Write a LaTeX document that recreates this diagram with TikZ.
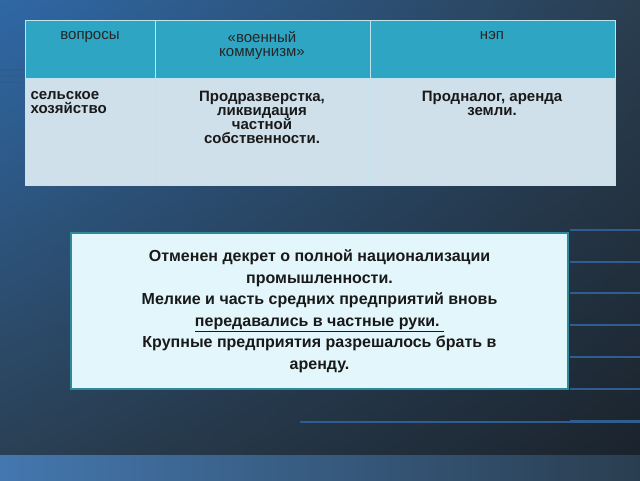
\documentclass[tikz,border=0pt]{standalone}
\usepackage{fontspec}
\setmainfont{Liberation Sans}
\usetikzlibrary{shadings}
\newcommand{\myul}[1]{\underline{#1}}
\definecolor{hdr}{HTML}{2DA5C3}
\definecolor{bod}{HTML}{CFE0EA}
\definecolor{boxf}{HTML}{E2F6FB}
\definecolor{boxb}{HTML}{2E8A9A}
\definecolor{bgA}{HTML}{2F68A6}
\definecolor{bgB}{HTML}{2A3E50}
\definecolor{bgC}{HTML}{1A222B}
\definecolor{ln}{HTML}{2F5E8E}
\begin{document}
\begin{tikzpicture}[x=1pt,y=-1pt,
  hd/.style={anchor=north,align=center,font=\fontsize{15}{15}\selectfont,text=black!85},
  bd/.style={anchor=north,align=center,font=\bfseries\fontsize{15}{15}\selectfont,text=black!90},
  bgline/.style={ln,line width=2.5pt}]
\useasboundingbox (0,0) rectangle (640,480);
\shade[upper left=bgA,upper right=bgB,lower left=bgB,lower right=bgC] (0,0) rectangle (640,480);
\shade[left color=bgA!90,right color=bgB] (0,455) rectangle (640,480);
\foreach \y in {230,262,293,325,357,389,421} \draw[bgline] (570,\y) -- (640,\y);
\draw[bgline,line width=1.5pt] (300,422) -- (640,422);
\foreach \y in {70,76,82} \draw[bgline,line width=1.5pt] (0,\y) -- (25,\y);
% table
\fill[hdr] (25,20) rectangle (615,78);
\fill[bod] (25,78) rectangle (615,185);
\draw[white!70!hdr,line width=0.6pt] (25,20) rectangle (615,185) (155,20) -- (155,185) (370,20) -- (370,185) (25,78) -- (615,78);
\node[hd] (h1) at (90,28) {вопросы};
\node[hd] (h2) at (262,28) {«военный\\[-1pt]коммунизм»};
\node[hd] (h3) at (492,28) {нэп};
\node[bd,anchor=north west,align=left] (b1) at (27,88) {сельское\\[-1pt]хозяйство};
\node[bd] (b2) at (262,88) {Продразверстка,\\[-1pt]ликвидация\\[-1pt]частной\\[-1pt]собственности.};
\node[bd] (b3) at (492,88) {Продналог, аренда\\[-1pt]земли.};
% box
\node[draw=boxb,line width=2pt,fill=boxf,minimum width=497pt,minimum height=156pt,anchor=north west] (box) at (70,232) {};
\node[align=center,font=\bfseries\fontsize{16}{21.5}\selectfont,text=black!90] (t) at (box.center) {Отменен декрет о полной национализации\\промышленности.\\Мелкие и часть средних предприятий вновь\\\myul{передавались в частные руки.\ }\\Крупные предприятия разрешалось брать в\\аренду.};
\end{tikzpicture}
\end{document}
